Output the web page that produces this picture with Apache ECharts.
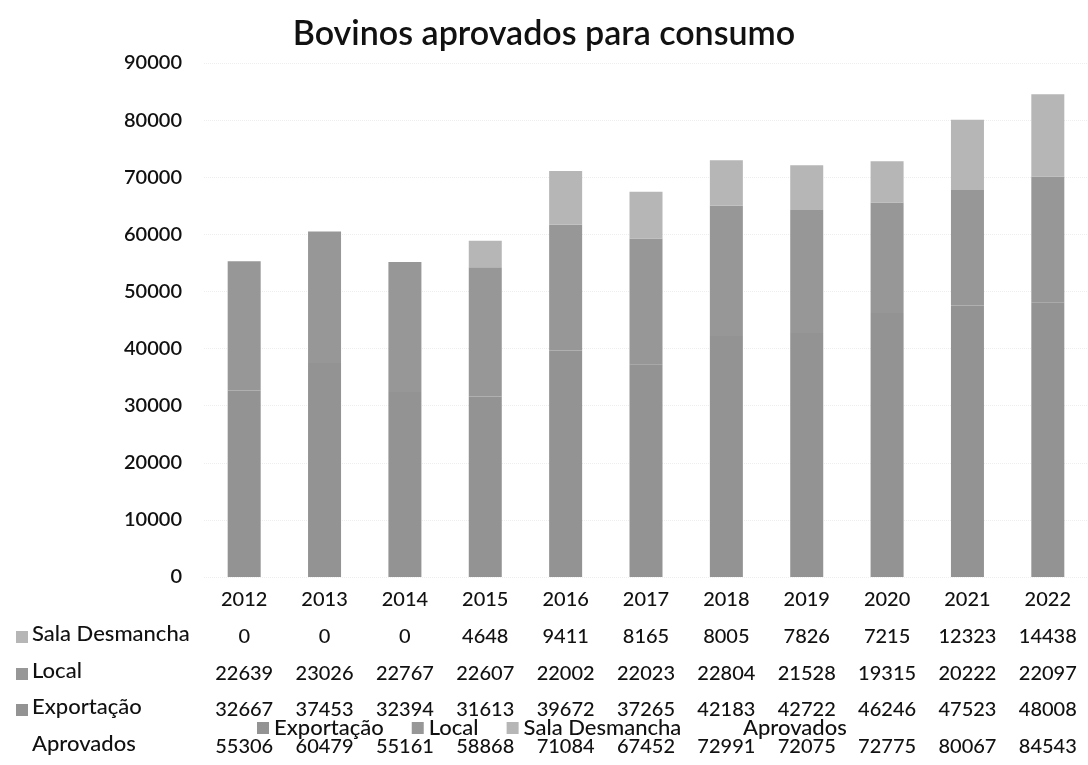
<!DOCTYPE html>
<html><head><meta charset="utf-8">
<script src="https://cdn.jsdelivr.net/npm/echarts@6/dist/echarts.min.js"></script>
<style>html,body{margin:0;padding:0;background:#fff}#c{width:1088px;height:765px}</style>
</head><body><div id="c"></div>
<script>
const titleText = 'Bovinos aprovados para consumo';
const years = ['2012','2013','2014','2015','2016','2017','2018','2019','2020','2021','2022'];
const salaDesmancha = [0,0,0,4648,9411,8165,8005,7826,7215,12323,14438];
const local = [22639,23026,22767,22607,22002,22023,22804,21528,19315,20222,22097];
const exportacao = [32667,37453,32394,31613,39672,37265,42183,42722,46246,47523,48008];
const aprovados = [55306,60479,55161,58868,71084,67452,72991,72075,72775,80067,84543];
const rowNames = ['Sala Desmancha','Local','Exportação','Aprovados'];

const FONT = 'Lato';
const TXT = '#111111';
const W = 500;
const colExp = '#939393', colLoc = '#979797', colSala = '#b6b6b6';

const gridBottomY = 577;
const rowY = [637, 674, 710, 747];

function tableAxis(values, offset) {
  return {
    type: 'category', gridIndex: 0, position: 'bottom', offset: offset,
    data: values.map(String),
    axisLine: {show: false}, axisTick: {show: false}, splitLine: {show: false},
    axisLabel: {interval: 0, margin: 23, verticalAlign: 'middle', fontSize: 20, fontWeight: W, fontFamily: FONT, color: TXT}
  };
}

const chart = echarts.init(document.getElementById('c'), null, {renderer: 'canvas'});
const icons = [colSala, colLoc, colExp, null];
const graphics = [];
rowNames.forEach((n, i) => {
  if (icons[i]) {
    graphics.push({type: 'rect', left: 16, top: rowY[i] - 6, shape: {width: 12, height: 12}, style: {fill: icons[i]}});
  }
  graphics.push({type: 'text', left: 32, top: rowY[i] - 14, style: {text: n, fontSize: 22, fontWeight: W, fontFamily: FONT, fill: TXT}});
});

chart.setOption({
  backgroundColor: '#fff',
  animation: false,
  title: {text: titleText, left: 'center', top: 12, textStyle: {fontSize: 34, fontWeight: 600, fontFamily: FONT, color: TXT}},
  grid: {left: 204, right: 0, top: 63, bottom: 765 - gridBottomY, containLabel: false},
  legend: [
    {data: ['Exportação','Local','Sala Desmancha'], left: 252, top: 712, icon: 'rect', itemWidth: 12, itemHeight: 12, itemGap: 28,
     textStyle: {fontSize: 22, fontWeight: W, fontFamily: FONT, color: TXT}, selectedMode: false},
    {data: [{name: 'Aprovados', icon: 'rect', itemStyle: {opacity: 0}}], left: 721, top: 712, itemWidth: 12, itemHeight: 12,
     textStyle: {fontSize: 22, fontWeight: W, fontFamily: FONT, color: TXT}, selectedMode: false}
  ],
  xAxis: [
    tableAxis(years, 0),
    tableAxis(salaDesmancha, rowY[0] - gridBottomY - 23),
    tableAxis(local, rowY[1] - gridBottomY - 23),
    tableAxis(exportacao, rowY[2] - gridBottomY - 23),
    tableAxis(aprovados, rowY[3] - gridBottomY - 23)
  ],
  yAxis: {
    type: 'value', min: 0, max: 90000, interval: 10000,
    axisLine: {show: false}, axisTick: {show: false},
    splitLine: {show: true, lineStyle: {color: '#eeeeee', type: 'dotted'}},
    axisLabel: {margin: 22, fontSize: 20, fontWeight: 600, fontFamily: FONT, color: TXT, formatter: v => String(v)}
  },
  graphic: graphics,
  series: [
    {name: 'Exportação', type: 'bar', stack: 'total', xAxisIndex: 0, data: exportacao, barWidth: 33, itemStyle: {color: colExp}},
    {name: 'Local', type: 'bar', stack: 'total', xAxisIndex: 0, data: local, barWidth: 33, itemStyle: {color: colLoc}},
    {name: 'Sala Desmancha', type: 'bar', stack: 'total', xAxisIndex: 0, data: salaDesmancha, barWidth: 33, itemStyle: {color: colSala}},
    {name: 'Aprovados', type: 'line', xAxisIndex: 0, data: aprovados, symbol: 'none', silent: true,
     lineStyle: {opacity: 0}, itemStyle: {opacity: 0}}
  ]
});
</script>
</body></html>
